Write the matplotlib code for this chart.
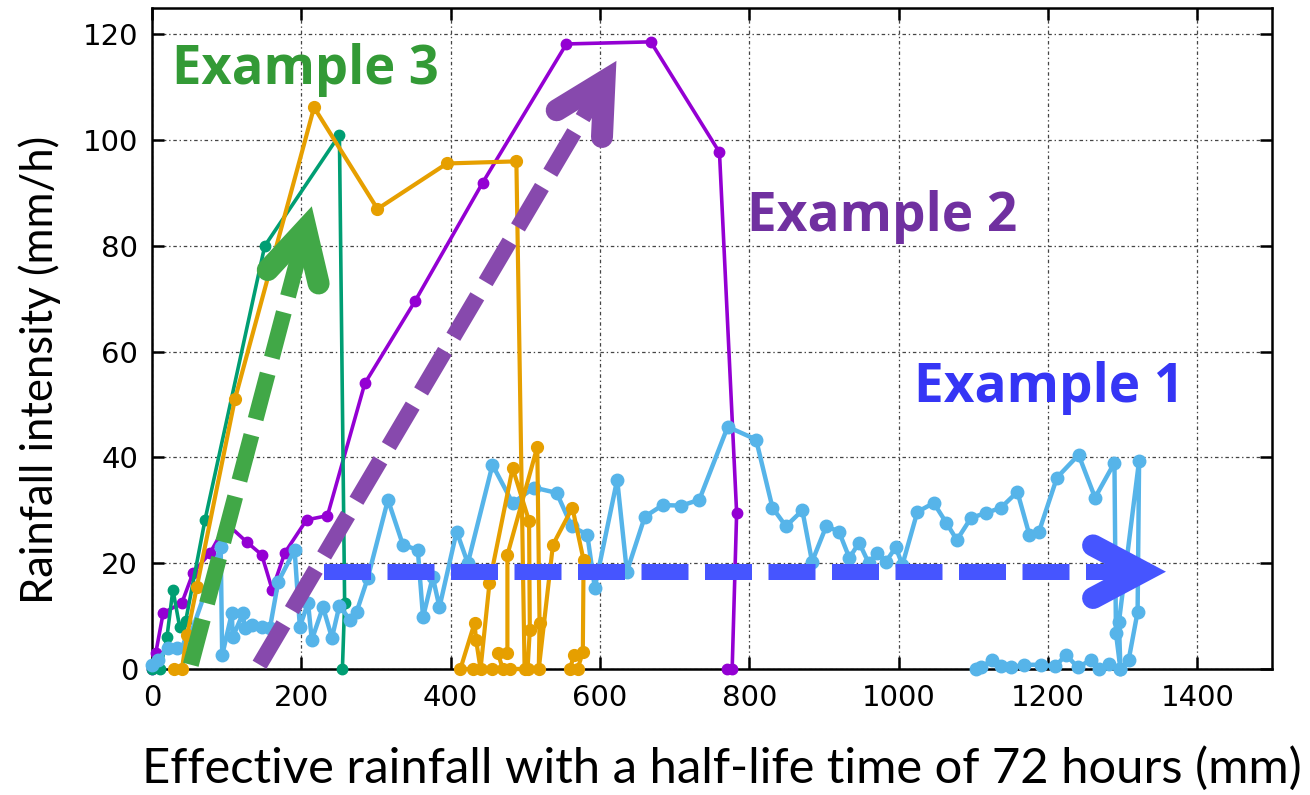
import numpy as np
import matplotlib
matplotlib.use("Agg")
import matplotlib.pyplot as plt
from matplotlib import font_manager

plt.rcParams['lines.scale_dashes'] = False

# --- data: effective rainfall (mm) vs rainfall intensity (mm/h) ---
ex2_x = [0, 5, 15, 40, 55, 78, 100, 127, 147, 161, 178, 207, 235, 285, 352, 443, 555, 668, 760, 783, 777, 770]
ex2_y = [0, 3, 10.6, 12.5, 18.2, 22, 27.5, 24, 21.6, 15, 22, 28.2, 29, 54, 69.5, 92, 118.2, 118.6, 97.7, 29.5, 0, 0]

ex3_x = [0, 11, 20, 28, 37, 45, 71, 151, 251, 258, 255]
ex3_y = [0, 0, 6, 15, 8, 9, 28.2, 80, 101, 12.5, 0]

ex1_x = [0, 8, 21, 33, 48, 92, 94, 107, 108, 122, 124, 134, 147, 158, 169, 191, 198, 209, 214, 229,
         241, 251, 265, 274, 289, 316, 336, 356, 363, 376, 385, 408, 423, 456, 483, 512, 542, 562, 583, 593,
         623, 636, 660, 684, 709, 733, 771, 809, 831, 849, 871, 884, 903, 920, 934, 947, 960, 971, 983, 996,
         1005, 1025, 1047, 1064, 1078, 1097, 1117, 1137, 1159, 1175, 1188, 1212, 1241, 1263, 1289, 1291, 1297,
         1295, 1322, 1320, 1308, 1297, 1282, 1268, 1257, 1240, 1224, 1210, 1190, 1168, 1150, 1137, 1125, 1110, 1103]
ex1_y = [0.8, 1.7, 4, 4, 5, 23, 2.6, 10.6, 6, 10.6, 7.8, 8.3, 8, 7.8, 16.5, 22.5, 8, 12.5, 5.5, 11.7,
         5.9, 12, 9.3, 10.8, 17.2, 32, 23.5, 22.5, 9.8, 17.4, 11.7, 26, 20, 38.6, 31.4, 34.3, 33.3, 27, 25.4, 15.4,
         35.8, 18.4, 28.8, 31, 30.9, 32, 45.8, 43.4, 30.5, 27, 30, 20.3, 27, 26, 21, 23.9, 20, 22, 20.3, 23,
         19.7, 29.7, 31.4, 27.6, 24.4, 28.6, 29.5, 30.5, 33.5, 25.4, 26, 36.2, 40.5, 32.4, 39, 6.8, 0,
         8.9, 39.4, 10.8, 1.7, 0, 1, 0, 1.7, 0.3, 2.7, 0.5, 0.8, 0.8, 0.3, 0.5, 1.7, 0.3, 0]

ex4_x = [30, 40, 47, 60, 111, 217, 302, 395, 488, 499, 480, 455, 430, 413, 432, 434, 440, 452, 483,
         505, 506, 503, 470, 463, 476, 476, 516, 519, 518, 537, 563, 578, 577, 570, 560, 565]
ex4_y = [0, 0, 6.4, 15.5, 51, 106.2, 87, 95.6, 96, 0, 0, 0, 0, 0, 8.7, 5.5, 0, 16.3, 38,
         28, 7.4, 0, 0, 3, 3, 21.6, 42, 8.7, 0, 23.5, 30.5, 20.6, 3.2, 0, 0, 2.7]

x_ticks = [0, 200, 400, 600, 800, 1000, 1200, 1400]
y_ticks = [0, 20, 40, 60, 80, 100, 120]

# annotation arrows (start, tip) in data units
arrow_ex3 = ((52, 0.8), (214, 87.5))
arrow_ex2 = ((144, 0.8), (622, 115))
arrow_ex1 = ((231, 18.4), (1358, 18.4))

names = {f.name for f in font_manager.fontManager.ttflist}
narrow = 'Liberation Sans Narrow' if 'Liberation Sans Narrow' in names else 'DejaVu Sans'
label_font = 'Lato'
note_font = 'Open Sans'

fig = plt.figure(figsize=(13.1, 7.95), dpi=100)
ax = fig.add_axes([152 / 1310, 126 / 795, 1120 / 1310, 661 / 795])
ax.set_xlim(0, 1500)
ax.set_ylim(0, 125)

ax.plot(ex2_x, ex2_y, '-o', color='#9400D3', lw=2.6, ms=7.5, clip_on=False, zorder=3)
ax.plot(ex3_x, ex3_y, '-o', color='#009E73', lw=2.6, ms=7.5, clip_on=False, zorder=3)
ax.plot(ex1_x, ex1_y, '-o', color='#56B4E9', lw=3.2, ms=9, clip_on=False, zorder=3)
ax.plot(ex4_x, ex4_y, '-o', color='#E69F00', lw=3, ms=8.5, clip_on=False, zorder=3)

ax.set_xticks(x_ticks)
ax.set_yticks(y_ticks)
ax.grid(True, color='#444444', lw=0.9, linestyle=(0, (2.5, 2, 1, 2)))
for s in ax.spines.values():
    s.set_linewidth(1.8)
ax.tick_params(direction='in', length=8.5, width=1.8, top=True, right=True)
ax.tick_params(axis='y', labelsize=21, pad=10, labelfontfamily='DejaVu Sans')
ax.tick_params(axis='x', labelsize=21, pad=11, labelfontfamily=narrow)


def dashed_arrow(start, tip_pt, color):
    to_px = ax.transData.transform
    to_data = ax.transData.inverted().transform
    p0 = to_px(start)
    p1 = to_px(tip_pt)
    u = (p1 - p0) / np.hypot(*(p1 - p0))
    n = np.array([-u[1], u[0]])
    half = np.radians(28)
    tip = p1 - u * 11 / np.sin(half)
    a1 = tip - 56 * (np.cos(half) * u + np.sin(half) * n)
    a2 = tip - 56 * (np.cos(half) * u - np.sin(half) * n)
    shaft = to_data([p0, tip - u * 8])
    head = to_data([a1, tip, a2])
    ax.plot(shaft[:, 0], shaft[:, 1], color=color, lw=16 * 0.72, dashes=(47 * 0.72, 16.5 * 0.72),
            dash_capstyle='butt', clip_on=False, zorder=6)
    ax.plot(head[:, 0], head[:, 1], color=color, lw=22 * 0.72, solid_capstyle='round',
            solid_joinstyle='miter', clip_on=False, zorder=6)


dashed_arrow(*arrow_ex3, '#41A847')
dashed_arrow(*arrow_ex2, '#8749AD')
dashed_arrow(*arrow_ex1, '#4655FF')

t3 = ax.text(206, 110.6, 'Example 3', color='#339A36', fontsize=38, fontweight='bold',
             family=note_font, ha='center', va='baseline', zorder=7)
t2 = ax.text(978, 82.8, 'Example 2', color='#7030A0', fontsize=38, fontweight='bold',
             family=note_font, ha='center', va='baseline', zorder=7)
t1 = ax.text(1201, 50.4, 'Example 1', color='#3535F5', fontsize=38, fontweight='bold',
             family=note_font, ha='center', va='baseline', zorder=7)

xl = ax.set_xlabel('Effective rainfall with a half-life time of 72 hours (mm)', fontsize=33, family=label_font)
yl = ax.set_ylabel('Rainfall intensity (mm/h)', fontsize=33, family=label_font)
ax.xaxis.set_label_coords((722 - 152) / 1120, (669 - 768) / 661)
ax.yaxis.set_label_coords((40 - 152) / 1120, (669 - 370) / 661)
xl.set_va('center')
yl.set_va('center')

# scale text so widths match the reference
fig.canvas.draw()
for txt, target, use_h in [(xl, 1165, False), (yl, 470, True), (t3, 267, False), (t2, 270, False), (t1, 270, False)]:
    bb = txt.get_window_extent()
    size = bb.height if use_h else bb.width
    txt.set_fontsize(txt.get_fontsize() * target / size)

fig.savefig('out.png', dpi=100)
